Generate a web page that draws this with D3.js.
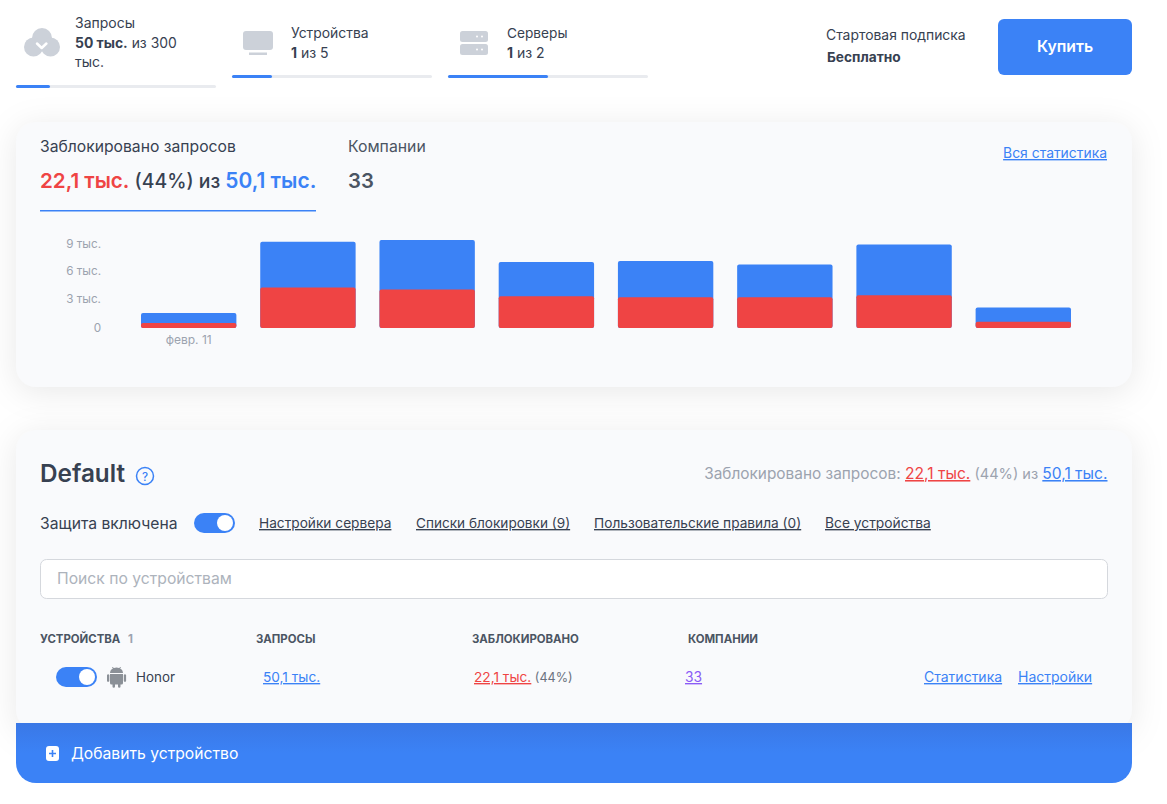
<!DOCTYPE html>
<html lang="ru">
<head>
<meta charset="utf-8">
<title>Статистика</title>
<script src="https://cdn.jsdelivr.net/npm/d3@7"></script>
<style>
    html, body { margin: 0; padding: 0; background: #fff; overflow: hidden; }
    svg { display: block; }
    text { font-family: Inter, "Noto Sans", sans-serif; }
    .card { filter: drop-shadow(0 5px 16px rgba(0, 0, 0, 0.09)); }
    .u { text-decoration: underline; }
</style>
</head>
<body>
<div id="chart"></div>
<script>
// chart values
var days = ["февр. 11", "февр. 12", "февр. 13", "февр. 14", "февр. 15", "февр. 16", "февр. 17", "февр. 18"];
var allowed = [1040, 4660, 5060, 3510, 3710, 3350, 5200, 1450];
var blocked = [500, 4150, 3950, 3250, 3150, 3150, 3350, 650];
var yTicks = [0, 3000, 6000, 9000];
var yTickLabels = ["0", "3 тыс.", "6 тыс.", "9 тыс."];

var BLUE = "#3b82f6", RED = "#ef4444", DARK = "#374151", GREY = "#9ca3af", ICON = "#ccd1d9", CARD = "#f9fafc";

var svg = d3.select("#chart").append("svg").attr("width", 1167).attr("height", 804);

function txt(x, y, parts, size, color, opts) {
    opts = opts || {};
    var t = svg.append("text")
        .attr("x", x).attr("y", y)
        .attr("font-size", size)
        .attr("fill", color)
        .attr("text-anchor", opts.anchor || "start")
        .attr("font-weight", opts.weight || 400);
    if (opts.cls) t.attr("class", opts.cls);
    (typeof parts === "string" ? [{s: parts}] : parts).forEach(function (p) {
        var sp = t.append("tspan").text(p.s);
        if (p.c) sp.attr("fill", p.c);
        if (p.w) sp.attr("font-weight", p.w);
        if (p.u) sp.attr("class", "u");
        if (p.z) sp.attr("font-size", p.z);
    });
    return t;
}

function toggle(x, y) {
    svg.append("rect").attr("x", x).attr("y", y).attr("width", 41).attr("height", 20).attr("rx", 10).attr("fill", BLUE);
    svg.append("circle").attr("cx", x + 31).attr("cy", y + 10).attr("r", 8).attr("fill", "#fff");
}

function progress(x, y, w) {
    svg.append("rect").attr("x", x).attr("y", y).attr("width", 200).attr("height", 3).attr("rx", 1.5).attr("fill", "#e9ebef");
    svg.append("rect").attr("x", x).attr("y", y).attr("width", w).attr("height", 3).attr("rx", 1.5).attr("fill", BLUE);
}

// top strip
[[42, 38, 10], [33.500, 47, 9.500], [50.500, 47, 9.500]].forEach(function (c) {
    svg.append("circle").attr("cx", c[0]).attr("cy", c[1]).attr("r", c[2]).attr("fill", ICON);
});
svg.append("path").attr("fill", "none").attr("stroke", "#fff").attr("stroke-width", 2.500)
    .attr("stroke-linecap", "round").attr("stroke-linejoin", "round")
    .attr("d", "M37 43.500l4.700 4.500l4.700-4.500");
txt(75, 28, "Запросы", 14, DARK);
txt(75, 48, [{s: "50 тыс.", w: 700}, {s: " из 300"}], 13.9, DARK);
txt(75, 67, "тыс.", 14, DARK);
progress(16, 85, 34);

svg.append("rect").attr("x", 243).attr("y", 31).attr("width", 30).attr("height", 19).attr("rx", 3).attr("fill", ICON);
svg.append("rect").attr("x", 249).attr("y", 52.500).attr("width", 18).attr("height", 2.500).attr("fill", ICON);
txt(291, 38, "Устройства", 13.9, DARK);
txt(291, 58, [{s: "1", w: 700}, {s: " из 5"}], 14, DARK);
progress(232, 75, 40);

[31, 44].forEach(function (y) {
    svg.append("rect").attr("x", 460).attr("y", y).attr("width", 28).attr("height", 11).attr("rx", 2.500).attr("fill", ICON);
    [477, 482].forEach(function (cx) {
        svg.append("circle").attr("cx", cx).attr("cy", y + 5.500).attr("r", 1).attr("fill", "#fff");
    });
});
txt(507, 38, "Серверы", 13.7, DARK);
txt(507, 58, [{s: "1", w: 700}, {s: " из 2"}], 14, DARK);
progress(448, 75, 100);

txt(826, 40, "Стартовая подписка", 13.9, DARK);
txt(827, 62, "Бесплатно", 13.7, DARK, {weight: 700});
svg.append("rect").attr("x", 998).attr("y", 19).attr("width", 134).attr("height", 56).attr("rx", 6).attr("fill", BLUE);
txt(1065, 52, "Купить", 15.8, "#fff", {anchor: "middle", weight: 600});

// cards
svg.append("rect").attr("class", "card").attr("x", 16).attr("y", 122).attr("width", 1116).attr("height", 265).attr("rx", 20).attr("fill", CARD);
svg.append("rect").attr("class", "card").attr("x", 16).attr("y", 430).attr("width", 1116).attr("height", 300).attr("rx", 20).attr("fill", CARD);

// first card header
txt(40, 152, "Заблокировано запросов", 15.7, DARK);
txt(40, 188, [{s: "22,1 тыс.", c: RED, w: 600, z: 20.6}, {s: " (44%) из ", w: 500, z: 19.4}, {s: "50,1 тыс.", c: BLUE, w: 600, z: 20.9}], 20.3, DARK);
svg.append("rect").attr("x", 40).attr("y", 210).attr("width", 276).attr("height", 1.500).attr("fill", BLUE);
txt(348, 152, "Компании", 15.8, "#4b5563");
txt(348, 188, "33", 20.3, "#4b5563", {weight: 600});
txt(1107, 158, "Вся статистика", 13.9, BLUE, {anchor: "end", cls: "u"});

// bars
var x = d3.scaleBand().domain(days).range([141, 1071]).paddingInner(0.2);
var y = d3.scaleLinear().domain([0, 9000]).range([328, 240]);

var rows = days.map(function (d, i) { return {day: d, blocked: blocked[i], allowed: allowed[i]}; });
var stacked = d3.stack().keys(["blocked", "allowed"])(rows);
var colors = {blocked: RED, allowed: BLUE};

// blue goes first so the red part sits over it
svg.append("g").selectAll("g").data(stacked.slice().reverse()).join("g")
    .attr("fill", function (s) { return colors[s.key]; })
    .selectAll("rect").data(function (s) { return s.map(function (p) { return {day: p.data.day, top: p[1]}; }); }).join("rect")
    .attr("x", function (d) { return x(d.day); })
    .attr("y", function (d) { return y(d.top); })
    .attr("width", x.bandwidth())
    .attr("height", function (d) { return y(0) - y(d.top); })
    .attr("rx", 2);

var yAxis = d3.axisLeft(y).tickValues(yTicks).tickSize(0).tickPadding(0)
    .tickFormat(function (d, i) { return yTickLabels[i]; });
var yG = svg.append("g").attr("transform", "translate(101,0)").call(yAxis);
yG.select(".domain").remove();
// the top label is pushed down a little in the reference
yG.selectAll("text").attr("fill", GREY).attr("font-size", 11.7)
    .attr("dy", function (d) { return d === 9000 ? "0.68em" : d === 6000 ? "0.42em" : "0.32em"; });

var xAxis = d3.axisBottom(x).tickValues([days[0]]).tickSize(0).tickPadding(0);
var xG = svg.append("g").attr("transform", "translate(0,335)").call(xAxis);
xG.select(".domain").remove();
xG.selectAll("text").attr("fill", GREY).attr("font-size", 12);

// second card
txt(40, 482, "Default", 24.3, DARK, {weight: 600});
svg.append("circle").attr("cx", 145).attr("cy", 476).attr("r", 8.500).attr("fill", "none").attr("stroke", BLUE).attr("stroke-width", 1.500);
txt(145, 480.500, "?", 11.5, BLUE, {anchor: "middle", weight: 500});
txt(1107.500, 479, [{s: "Заблокировано запросов: "}, {s: "22,1 тыс.", c: RED, u: 1, z: 15.6}, {s: " (44%) из ", z: 14.6}, {s: "50,1 тыс.", c: BLUE, u: 1, z: 15.6}], 15.4, GREY, {anchor: "end"});

txt(40, 529, "Защита включена", 15.7, DARK);
toggle(194, 513);
txt(259, 528, "Настройки сервера", 13.7, DARK, {cls: "u"});
txt(416, 528, "Списки блокировки (9)", 13.6, DARK, {cls: "u"});
txt(594, 528, "Пользовательские правила (0)", 13.7, DARK, {cls: "u"});
txt(825, 528, "Все устройства", 13.8, DARK, {cls: "u"});

svg.append("rect").attr("x", 40.500).attr("y", 559.500).attr("width", 1067).attr("height", 39).attr("rx", 6).attr("fill", "#fff").attr("stroke", "#d5d8dd");
txt(57, 584, "Поиск по устройствам", 15.7, "#adb3bc");

txt(40, 643, "УСТРОЙСТВА", 11.4, "#4b5563", {weight: 700});
txt(128, 643, "1", 11.4, GREY, {weight: 700});
txt(256, 643, "ЗАПРОСЫ", 11.4, "#4b5563", {weight: 700});
txt(472, 643, "ЗАБЛОКИРОВАНО", 11.4, "#4b5563", {weight: 700});
txt(688, 643, "КОМПАНИИ", 11.4, "#4b5563", {weight: 700});

toggle(56, 667);
// android robot
svg.append("path").attr("fill", "#8b9097")
    .attr("d", "M110 673a6.500 5.500 0 0 1 13 0zM110 674h13v9a1.500 1.500 0 0 1-1.500 1.500h-1v2a1.200 1.200 0 0 1-2.500 0v-2h-3v2a1.200 1.200 0 0 1-2.500 0v-2h-1a1.500 1.500 0 0 1-1.500-1.500zM107 675a1.200 1.200 0 0 1 2.300 0v6a1.200 1.200 0 0 1-2.300 0zM123.800 675a1.200 1.200 0 0 1 2.300 0v6a1.200 1.200 0 0 1-2.300 0z");
svg.append("path").attr("stroke", "#8b9097").attr("stroke-width", 1)
    .attr("d", "M112.500 667l1.500 2.500M120.500 667l-1.500 2.500");
txt(136, 682, "Honor", 13.4, DARK);
txt(263, 682, "50,1 тыс.", 13.7, BLUE, {cls: "u"});
txt(474, 682, [{s: "22,1 тыс.", c: RED, u: 1}, {s: " (44%)", c: "#6b7280", z: 12.6}], 13.7, RED);
txt(685, 682, "33", 13.8, "#8b5cf6", {cls: "u"});
txt(924, 682, "Статистика", 14, BLUE, {cls: "u"});
txt(1018, 682, "Настройки", 14, BLUE, {cls: "u"});

// bottom button
var grad = svg.append("defs").append("linearGradient").attr("id", "btn").attr("x1", 0).attr("y1", 0).attr("x2", 0).attr("y2", 1);
grad.append("stop").attr("offset", 0).attr("stop-color", "#3a78e6");
grad.append("stop").attr("offset", 0.5).attr("stop-color", BLUE);
svg.append("path").attr("fill", "url(#btn)")
    .attr("d", "M16 723h1116v40a20 20 0 0 1-20 20H36a20 20 0 0 1-20-20z");
svg.append("rect").attr("x", 46).attr("y", 746).attr("width", 13).attr("height", 15).attr("rx", 3).attr("fill", "#fff");
svg.append("path").attr("stroke", BLUE).attr("stroke-width", 1.600).attr("d", "M49 753.500h7M52.500 750v7");
txt(71, 759, "Добавить устройство", 15.7, "#fff");
</script>
</body>
</html>
